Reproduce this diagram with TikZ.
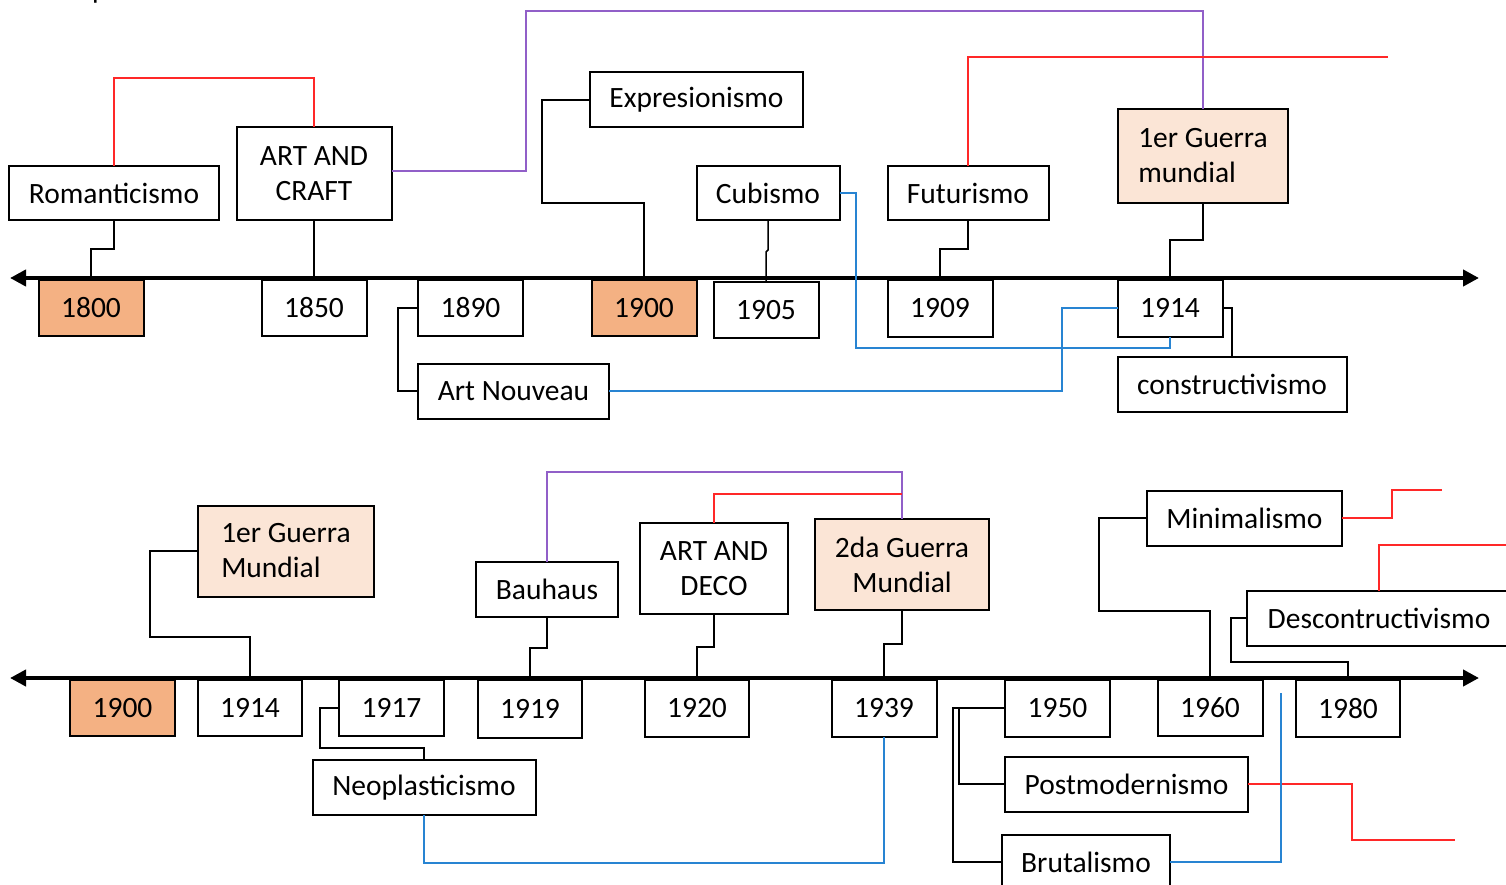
\documentclass[tikz,border=0pt]{standalone}
\usepackage{fontspec}
\setmainfont{Carlito}
\usetikzlibrary{arrows.meta}
\definecolor{orng}{RGB}{244,177,131}
\definecolor{peach}{RGB}{251,229,214}
\definecolor{lred}{RGB}{255,40,40}
\definecolor{lpurp}{RGB}{145,95,200}
\definecolor{lblue}{RGB}{40,132,210}
\begin{document}
\begin{tikzpicture}[x=1pt,y=-1pt,
  box/.style={draw=black, line width=2pt, fill=white, inner sep=0pt, outer sep=0pt,
    font=\fontsize{29.5}{35}\selectfont, align=center},
  yr/.style={box, minimum width=105pt, minimum height=56pt},
  hist/.style={yr, fill=orng},
  war/.style={box, fill=peach},
  conn/.style={line width=1.5pt, black},
  rline/.style={line width=1.6pt, lred},
  pline/.style={line width=1.6pt, lpurp},
  bline/.style={line width=1.6pt, lblue},
  timeline/.style={line width=4pt, black, {Triangle[length=16pt,width=16pt]}-{Triangle[length=16pt,width=16pt]}}
]
\useasboundingbox (0,0) rectangle (1506,885);

% partial text at top edge
\node[anchor=base west, inner sep=0pt, font=\fontsize{29.5}{35}\selectfont] (ptxt) at (92,-1) {p};

% timelines
\coordinate (tl1) at (10,278);
\coordinate (tr1) at (1479,278);
\coordinate (tl2) at (10,678);
\coordinate (tr2) at (1479,678);
\draw[timeline] (tl1) -- (tr1);
\draw[timeline] (tl2) -- (tr2);

% ---------- top row ----------
\node[box, minimum width=210pt, minimum height=54pt] (rom) at (114,193) {Romanticismo};
\node[box, minimum width=155pt, minimum height=93pt] (aac) at (314,173.5) {ART AND\\CRAFT};
\node[box, minimum width=213pt, minimum height=55pt] (expr) at (696.5,100) {Expresionismo};
\node[box, minimum width=143pt, minimum height=54pt] (cub) at (768,193) {Cubismo};
\node[box, minimum width=161pt, minimum height=54pt] (fut) at (968,193) {Futurismo};
\node[war, align=left, minimum width=170pt, minimum height=94pt] (gue1) at (1203,156) {1er Guerra\\mundial};
\node[box, minimum width=191pt, minimum height=55pt] (artn) at (513.5,391) {Art Nouveau};
\node[box, minimum width=229pt, minimum height=55pt] (cons) at (1232,384.5) {constructivismo};

\node[hist] (y1800) at (91,308) {1800};
\node[yr] (y1850) at (314,308) {1850};
\node[yr] (y1890) at (470.5,308) {1890};
\node[hist] (y1900a) at (644,308) {1900};
\node[yr] (y1905) at (766,310) {1905};
\node[yr, minimum height=57pt] (y1909) at (940,308.5) {1909};
\node[yr, minimum height=57pt] (y1914a) at (1170,308) {1914};

% connectors top
\draw[conn] (rom.south) -- (rom.south |- 0,249) -- (y1800.north |- 0,249) -- (y1800.north);
\draw[conn] (aac.south) -- (y1850.north);
\draw[rline] (rom.north) -- (rom.north |- 0,78) -- (aac.north |- 0,78) -- (aac.north);
\draw[pline] (aac.east |- 0,171) -- (526,171) -- (526,11) -- (gue1.north |- 0,11) -- (gue1.north);
\draw[conn] (expr.west) -- (expr.west -| 542,0) -- (542,203) -- (y1900a.north |- 0,203) -- (y1900a.north);
\draw[conn] (cub.south) -- (cub.south |- 0,250) -- (y1905.north |- 0,252) -- (y1905.north);
\draw[bline] (cub.east) -- (cub.east -| 856,0) -- (856,348) -- (y1914a.south |- 0,348) -- (y1914a.south);
\draw[conn] (fut.south) -- (fut.south |- 0,249) -- (y1909.north |- 0,249) -- (y1909.north);
\coordinate (fr1) at (1388,57);
\draw[rline] (fut.north) -- (fut.north |- fr1) -- (fr1);
\draw[conn] (gue1.south) -- (gue1.south |- 0,240) -- (y1914a.north |- 0,240) -- (y1914a.north);
\draw[conn] (y1890.west) -- (y1890.west -| 398,0) -- (artn.west -| 398,0) -- (artn.west);
\draw[bline] (artn.east) -- (artn.east -| 1062,0) -- (y1914a.west -| 1062,0) -- (y1914a.west);
\draw[conn] (y1914a.east) -- (y1914a.east -| cons.north) -- (cons.north);

% ---------- bottom row ----------
\node[war, align=left, minimum width=176pt, minimum height=91pt] (gue1b) at (286,551) {1er Guerra\\Mundial};
\node[box, minimum width=142pt, minimum height=55pt] (bau) at (547,589.5) {Bauhaus};
\node[box, minimum width=148pt, minimum height=91pt] (aad) at (714,568.5) {ART AND\\DECO};
\node[war, minimum width=174pt, minimum height=91pt] (gue2) at (902,564.5) {2da Guerra\\Mundial};
\node[box, minimum width=195pt, minimum height=55pt] (mini) at (1244.5,518) {Minimalismo};
\node[box, minimum width=264pt, minimum height=55pt] (desc) at (1379,618) {Descontructivismo};
\node[box, minimum width=223pt, minimum height=55pt] (neo) at (424,787.5) {Neoplasticismo};
\node[box, minimum width=243pt, minimum height=55pt] (post) at (1126.5,784) {Postmodernismo};
\node[box, minimum width=168pt, minimum height=54pt] (brut) at (1086,862) {Brutalismo};

\node[hist] (b1900) at (122.5,708) {1900};
\node[yr, minimum width=104pt] (b1914) at (250,708) {1914};
\node[yr] (b1917) at (391.5,708) {1917};
\node[yr, minimum width=104pt, minimum height=58pt] (b1919) at (530,709) {1919};
\node[yr, minimum width=104pt, minimum height=57pt] (b1920) at (697,708.5) {1920};
\node[yr, minimum height=57pt] (b1939) at (884,708.5) {1939};
\node[yr, minimum height=57pt] (b1950) at (1057.5,708) {1950};
\node[yr] (b1960) at (1210,708) {1960};
\node[yr, minimum width=104pt, minimum height=57pt] (b1980) at (1348,708.5) {1980};

% connectors bottom
\draw[conn] (gue1b.west) -- (gue1b.west -| 150,0) -- (150,637) -- (b1914.north |- 0,637) -- (b1914.north);
\draw[conn] (b1917.west) -- (b1917.west -| 320,0) -- (320,748) -- (neo.north |- 0,748) -- (neo.north);
\draw[bline] (neo.south) -- (neo.south |- 0,863) -- (b1939.south |- 0,863) -- (b1939.south);
\draw[conn] (bau.south) -- (bau.south |- 0,648) -- (b1919.north |- 0,648) -- (b1919.north);
\draw[pline] (bau.north) -- (bau.north |- 0,472) -- (gue2.north |- 0,472) -- (gue2.north);
\draw[rline] (aad.north) -- (aad.north |- 0,494) -- (gue2.north |- 0,494);
\draw[conn] (aad.south) -- (aad.south |- 0,647) -- (b1920.north |- 0,647) -- (b1920.north);
\draw[conn] (gue2.south) -- (gue2.south |- 0,644) -- (b1939.north |- 0,644) -- (b1939.north);
\draw[conn] (mini.west) -- (mini.west -| 1099,0) -- (1099,611) -- (b1960.north |- 0,611) -- (b1960.north);
\coordinate (fr2) at (1442,490);
\draw[rline] (mini.east) -- (mini.east -| 1392,0) -- (1392,490) -- (fr2);
\coordinate (fr3) at (1515,545);
\draw[rline] (desc.north) -- (desc.north |- fr3) -- (fr3);
\draw[conn] (desc.west) -- (desc.west -| 1231,0) -- (1231,662) -- (b1980.north |- 0,662) -- (b1980.north);
\draw[conn] (b1950.west) -- (b1950.west -| 953,0) -- (brut.west -| 953,0) -- (brut.west);
\draw[conn] (post.west) -- (post.west -| 959,0) -- (b1950.west -| 959,0);
\coordinate (fr4) at (1455,840);
\draw[rline] (post.east) -- (post.east -| 1352,0) -- (1352,840) -- (fr4);
\coordinate (fr5) at (1281,693);
\draw[bline] (brut.east) -- (brut.east -| fr5) -- (fr5);

\end{tikzpicture}
\end{document}
